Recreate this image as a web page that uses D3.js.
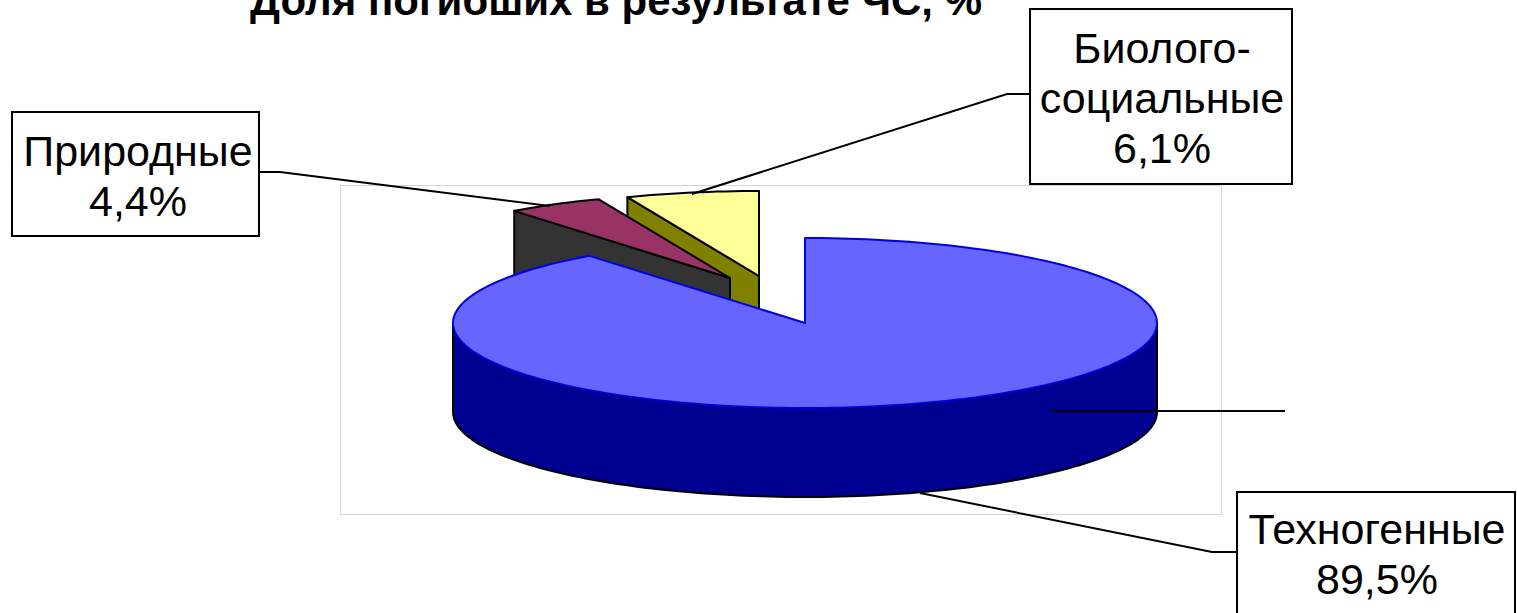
<!DOCTYPE html>
<html>
<head>
<meta charset="utf-8">
<script src="https://cdn.jsdelivr.net/npm/d3@7"></script>
<style>
  html, body { margin: 0; padding: 0; background: #fff; overflow: hidden; }
  text { font-family: "Liberation Sans", Arial, sans-serif; fill: #000; }
</style>
</head>
<body>
<div id="chart-area"></div>
<script>
// Data
var categories = ["Техногенные", "Природные", "Биолого-социальные"];
var shares = [89.5, 4.4, 6.1];
var topColors = ["#6666ff", "#993366", "#ffff99"];
var wallColors = ["#000090", "#333333", "#808000"];
var topStrokes = ["#0000e0", "#000000", "#000000"];
var titleText = "Доля погибших в результате ЧС, %";

var width = 1517, height = 613;

var svg = d3.select("#chart-area").append("svg")
    .attr("width", width)
    .attr("height", height)
    .style("display", "block");

// Plot frame
svg.append("rect")
    .attr("x", 340.5).attr("y", 185.5)
    .attr("width", 881).attr("height", 329)
    .attr("fill", "#fff")
    .attr("stroke", "#d4d4d4");

// Title runs off the top of the picture
svg.append("text")
    .attr("x", 616).attr("y", 15)
    .attr("text-anchor", "middle")
    .attr("font-size", 42)
    .attr("font-weight", "bold")
    .text(titleText);

// Pie geometry
var rx = 352, ry = 85, depth = 89;
var centers = [[805, 323], [730, 278], [759, 276]];

var pie = d3.pie().sort(null).value(function(d){ return d; });
var slices = pie(shares);

var line = d3.line();

function makeScales(c) {
    return {
        x: d3.scaleLinear().domain([-1, 1]).range([c[0] - rx, c[0] + rx]),
        y: d3.scaleLinear().domain([-1, 1]).range([c[1] - ry, c[1] + ry])
    };
}

function arcPoints(s, a0, a1, dy) {
    var n = Math.max(2, Math.ceil(Math.abs(a1 - a0) * 40));
    return d3.range(n + 1).map(function(i){
        var a = a0 + (a1 - a0) * i / n;
        return [s.x(Math.sin(a)), s.y(-Math.cos(a)) + dy];
    });
}

// Side wall seen from the front
function wallPath(d, i) {
    var s = makeScales(centers[i]);
    if (i === 0) {
        var front = arcPoints(s, Math.PI / 2, 3 * Math.PI / 2, 0);
        var back = arcPoints(s, 3 * Math.PI / 2, Math.PI / 2, depth);
        return line(front.concat(back)) + "Z";
    }
    var a = d.startAngle;
    var edge = [s.x(Math.sin(a)), s.y(-Math.cos(a))];
    var apex = [s.x(0), s.y(0)];
    return line([edge, apex, [apex[0], apex[1] + depth], [edge[0], edge[1] + depth]]) + "Z";
}

function topPath(d, i) {
    var s = makeScales(centers[i]);
    var rim = arcPoints(s, d.startAngle, d.endAngle, 0);
    return line(rim.concat([[s.x(0), s.y(0)]])) + "Z";
}

// Back slices first, the big one goes on top
[2, 1, 0].forEach(function(i) {
    var g = svg.append("g").attr("class", "slice");
    g.append("path")
        .attr("d", wallPath(slices[i], i))
        .attr("fill", wallColors[i])
        .attr("stroke", "#000")
        .attr("stroke-width", 2)
        .attr("stroke-linejoin", "round");
    g.append("path")
        .attr("d", topPath(slices[i], i))
        .attr("fill", topColors[i])
        .attr("stroke", topStrokes[i])
        .attr("stroke-width", 2)
        .attr("stroke-linejoin", "round");
});

// Leader lines
var leaders = [
    [[1285, 411], [1052, 411]],
    [[920, 493], [1212, 552], [1237, 552]],
    [[258, 172], [280, 172], [550, 206]],
    [[1030, 94], [1007, 94], [692, 194]]
];
svg.selectAll(".leader")
    .data(leaders)
    .enter()
    .append("path")
    .attr("class", "leader")
    .attr("d", line)
    .attr("fill", "none")
    .attr("stroke", "#000")
    .attr("stroke-width", 2);

// Label boxes
var formatShare = d3.formatLocale({decimal: ",", thousands: " ", grouping: [3], currency: ["", ""]}).format(".1f");

var boxes = [
    {i: 0, x: 1237, y: 492, w: 278, h: 140, cx: 1377, lines: ["Техногенные"], base: 544},
    {i: 1, x: 12, y: 112, w: 247, h: 124, cx: 138, lines: ["Природные"], base: 166},
    {i: 2, x: 1030, y: 9, w: 262, h: 175, cx: 1162, lines: ["Биолого-", "социальные"], base: 63}
];

boxes.forEach(function(b) {
    var g = svg.append("g").attr("class", "label-box");
    g.append("rect")
        .attr("x", b.x).attr("y", b.y)
        .attr("width", b.w).attr("height", b.h)
        .attr("fill", "#fff")
        .attr("stroke", "#000")
        .attr("stroke-width", 2);
    var rows = b.lines.concat([formatShare(shares[b.i]) + "%"]);
    g.selectAll("text")
        .data(rows)
        .enter()
        .append("text")
        .attr("x", b.cx)
        .attr("y", function(d, j){ return b.base + j * 50; })
        .attr("text-anchor", "middle")
        .attr("font-size", 43)
        .text(function(d){ return d; });
});
</script>
</body>
</html>
